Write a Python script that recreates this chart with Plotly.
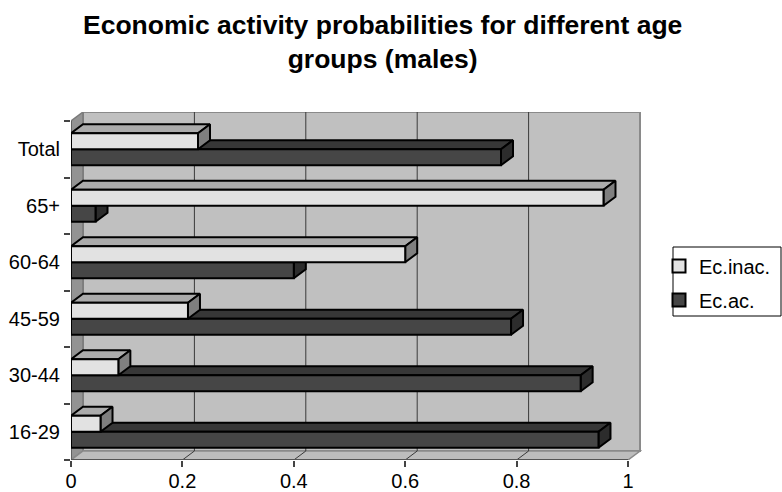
import plotly.graph_objects as go

# ---- data ----
categories = ["16-29", "30-44", "45-59", "60-64", "65+", "Total"]
ec_inac = [0.053, 0.085, 0.21, 0.60, 0.956, 0.228]
ec_ac = [0.947, 0.915, 0.79, 0.40, 0.044, 0.772]
x_ticks = [0, 0.2, 0.4, 0.6, 0.8, 1]
x_tick_labels = ["0", "0.2", "0.4", "0.6", "0.8", "1"]
series_names = ["Ec.inac.", "Ec.ac."]

# ---- geometry (pixels -> data units) ----
W, H = 782, 492
ML, MR, MT, MB = 71, 140, 112, 32
PX_PER_X = 557.0
PX_PER_CAT = 56.5
plot_w = W - ML - MR
plot_h = H - MT - MB
x_max = plot_w / PX_PER_X
y_min = -0.5
y_max = y_min + plot_h / PX_PER_CAT
DX = 12 / PX_PER_X          # depth offset, x units
DY = y_max - (len(categories) - 0.5)  # depth offset, category units
BAR_H = 16 / PX_PER_CAT

FONT = "Arial, Liberation Sans, sans-serif"

colors = {
    "Ec.inac.": {"front": "#e2e2e2", "top": "#ababab", "side": "#7f7f7f"},
    "Ec.ac.": {"front": "#464646", "top": "#373737", "side": "#2c2c2c"},
}


def polys(values, offset, face):
    xs, ys = [], []
    for i, v in enumerate(values):
        y0 = i + offset
        y1 = y0 + BAR_H
        if face == "front":
            px = [0, v, v, 0, 0]
            py = [y0, y0, y1, y1, y0]
        elif face == "top":
            px = [0, v, v + DX, DX, 0]
            py = [y1, y1, y1 + DY, y1 + DY, y1]
        else:
            px = [v, v + DX, v + DX, v, v]
            py = [y0, y0 + DY, y1 + DY, y1, y0]
        xs += px + [None]
        ys += py + [None]
    return xs, ys


fig = go.Figure()

# draw Ec.ac. first (lower bar), then Ec.inac. on top of it
for name, vals, off in [("Ec.ac.", ec_ac, -BAR_H), ("Ec.inac.", ec_inac, 0.0)]:
    for face in ["top", "side", "front"]:
        xs, ys = polys(vals, off, face)
        fig.add_trace(go.Scatter(
            x=xs, y=ys, mode="lines", fill="toself",
            fillcolor=colors[name][face],
            line=dict(color="black", width=2),
            showlegend=False, hoverinfo="skip",
        ))

# legend-only traces
for rank, name in enumerate(series_names):
    fig.add_trace(go.Scatter(
        x=[None], y=[None], mode="markers", name=name,
        legendgroup=name, legendrank=rank + 1,
        marker=dict(symbol="square", size=13, color=colors[name]["front"],
                    line=dict(color="black", width=2)),
    ))

shapes = []
top = len(categories) - 0.5
# back wall
shapes.append(dict(type="rect", xref="x", yref="y", layer="below",
                   x0=DX, x1=1 + DX, y0=y_min + DY, y1=top + DY,
                   fillcolor="#c0c0c0", line=dict(color="#8a8a8a", width=2)))
# side wall
shapes.append(dict(type="path", xref="x", yref="y", layer="below",
                   path=f"M 0,{y_min} L {DX},{y_min + DY} L {DX},{top + DY} L 0,{top} Z",
                   fillcolor="#939393", line=dict(color="#7a7a7a", width=1.5)))
# floor
shapes.append(dict(type="path", xref="x", yref="y", layer="below",
                   path=f"M 0,{y_min} L 1,{y_min} L {1 + DX},{y_min + DY} L {DX},{y_min + DY} Z",
                   fillcolor="#bdbdbd", line=dict(color="#8a8a8a", width=1.5)))
# gridlines on back wall and floor
for t in x_ticks[1:-1]:
    shapes.append(dict(type="line", xref="x", yref="y", layer="below",
                       x0=t + DX, x1=t + DX, y0=y_min + DY, y1=top + DY,
                       line=dict(color="#3a3a3a", width=1)))
    shapes.append(dict(type="line", xref="x", yref="y", layer="below",
                       x0=t, x1=t + DX, y0=y_min, y1=y_min + DY,
                       line=dict(color="#3a3a3a", width=1)))
# front axes edges
shapes.append(dict(type="line", xref="x", yref="y", layer="below",
                   x0=0, x1=1, y0=y_min, y1=y_min,
                   line=dict(color="#555555", width=2)))
shapes.append(dict(type="line", xref="x", yref="y", layer="below",
                   x0=0, x1=0, y0=y_min, y1=top,
                   line=dict(color="#555555", width=1.5)))
# legend box
shapes.append(dict(type="rect", xref="paper", yref="paper",
                   x0=(673 - ML) / plot_w, x1=(781 - ML) / plot_w,
                   y0=(H - MB - 316) / plot_h, y1=(H - MB - 247) / plot_h,
                   line=dict(color="black", width=1), fillcolor="rgba(0,0,0,0)"))

annotations = [dict(
    text="<b>Economic activity probabilities for different age<br>groups (males)</b>",
    xref="paper", yref="paper",
    x=(382 - ML) / plot_w, xanchor="center",
    y=(H - MB - 8) / plot_h, yanchor="top",
    showarrow=False, align="center",
    font=dict(family=FONT, size=26.5, color="black"),
)]

fig.update_layout(
    width=W, height=H,
    margin=dict(l=ML, r=MR, t=MT, b=MB, pad=0, autoexpand=False),
    paper_bgcolor="white", plot_bgcolor="white",
    font=dict(family=FONT, size=20, color="black"),
    shapes=shapes,
    annotations=annotations,
    showlegend=True,
    legend=dict(
        xref="container", yref="container",
        x=659 / W, xanchor="left",
        y=1 - 283 / H, yanchor="middle",
        bgcolor="rgba(0,0,0,0)", borderwidth=0,
        font=dict(family=FONT, size=20),
        traceorder="grouped", tracegroupgap=5,
        itemwidth=30,
    ),
    xaxis=dict(
        range=[0, x_max], tickvals=x_ticks, ticktext=x_tick_labels,
        ticks="outside", ticklen=6, tickwidth=1.5, tickcolor="#444444",
        ticklabelstandoff=-3,
        showgrid=False, zeroline=False, showline=False, fixedrange=True,
        automargin=False,
    ),
    yaxis=dict(
        range=[y_min, y_max], tickvals=list(range(len(categories))), ticktext=categories,
        ticks="outside", ticklen=6, tickcolor="rgba(0,0,0,0)",
        minor=dict(tick0=0.5, dtick=1, ticks="outside", ticklen=6,
                   tickcolor="#444444", tickwidth=1.5, showgrid=False),
        showgrid=False, zeroline=False, showline=False, fixedrange=True,
        automargin=False,
    ),
)

fig.write_html("out.html")
